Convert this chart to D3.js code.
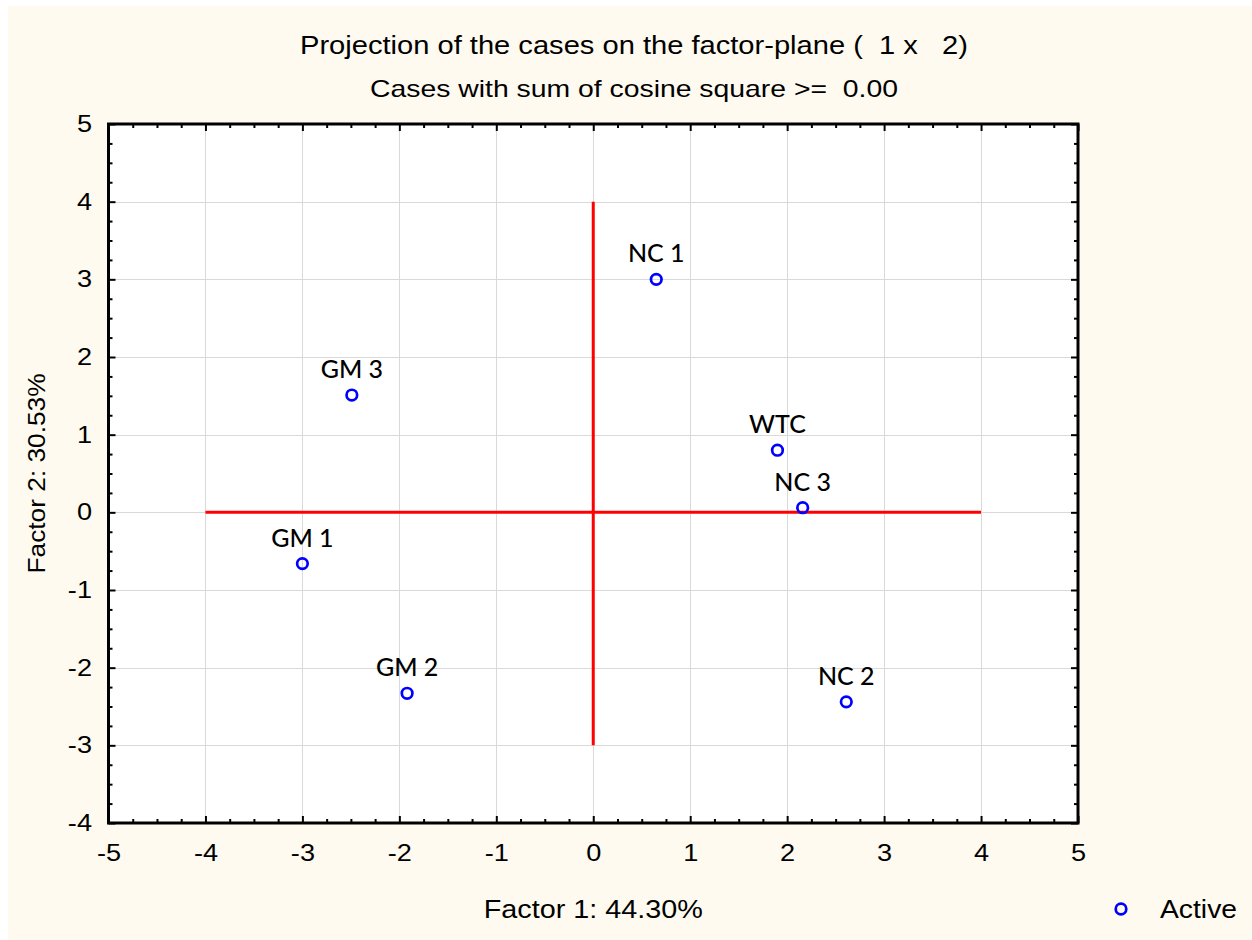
<!DOCTYPE html>
<html><head><meta charset="utf-8">
<script src="https://cdn.jsdelivr.net/npm/d3@7"></script>
<style>body{margin:0;background:#fff}svg{display:block}</style>
</head><body>
<svg id="c" width="1252" height="940"></svg>
<script>
// ---- data ----
const caseLabels = ["NC 1", "GM 3", "WTC", "NC 3", "GM 1", "GM 2", "NC 2"];
const factor1 = [0.65, -2.49, 1.90, 2.16, -3.00, -1.92, 2.61];
const factor2 = [3.00, 1.51, 0.80, 0.06, -0.66, -2.33, -2.44];
const xTicks = [-5, -4, -3, -2, -1, 0, 1, 2, 3, 4, 5];
const yTicks = [-4, -3, -2, -1, 0, 1, 2, 3, 4, 5];
const horizAxisLine = [[-4, 0], [4, 0]];
const vertAxisLine = [[0, -3], [0, 4]];
const titleLines = ["Projection of the cases on the factor-plane (  1 x   2)", "Cases with sum of cosine square >=  0.00"];
const xTitle = "Factor 1: 44.30%";
const yTitle = "Factor 2: 30.53%";
const legendLabel = "Active";

// ---- layout ----
const L = 108.5, R = 1078, T = 124, B = 823;
const svg = d3.select("#c");
const sans = "'Liberation Sans', Arial, sans-serif";
const labelFont = "Lato, 'Open Sans', sans-serif";
const stretch = 1.18;

svg.append("rect").attr("x", 0).attr("y", 0).attr("width", 1252).attr("height", 940).attr("fill", "#ffffff");
svg.append("rect").attr("x", 8).attr("y", 6).attr("width", 1244).attr("height", 934).attr("fill", "#fefaef");

const x = d3.scaleLinear().domain([-5, 5]).range([L, R]);
const y = d3.scaleLinear().domain([-4, 5]).range([B, T]);

svg.append("rect").attr("x", L).attr("y", T).attr("width", R - L).attr("height", B - T).attr("fill", "#ffffff");

// grid
const grid = svg.append("g").attr("stroke", "#d9d9d9").attr("stroke-width", 1);
grid.selectAll("line.gx").data(xTicks.slice(1, -1)).join("line")
  .attr("x1", d => Math.round(x(d)) + 0.5).attr("x2", d => Math.round(x(d)) + 0.5).attr("y1", T).attr("y2", B);
grid.selectAll("line.gy").data(yTicks.slice(1, -1)).join("line")
  .attr("y1", d => Math.round(y(d)) + 0.5).attr("y2", d => Math.round(y(d)) + 0.5).attr("x1", L).attr("x2", R);

// red reference lines
const line = d3.line().x(d => x(d[0])).y(d => y(d[1]));
svg.append("path").attr("d", line(horizAxisLine)).attr("stroke", "#ff0000").attr("stroke-width", 3).attr("fill", "none");
svg.append("path").attr("d", line(vertAxisLine)).attr("stroke", "#ff0000").attr("stroke-width", 3).attr("fill", "none");

// minor tick values
const xMinor = d3.range(-5, 5.001, 0.25).filter(v => Math.abs(v - Math.round(v)) > 1e-6);
const yMinor = d3.range(-4, 5.001, 0.25).filter(v => Math.abs(v - Math.round(v)) > 1e-6);

const fmt = d => String(d);
function styleAxis(g) {
  g.select(".domain").remove();
  g.selectAll("line").attr("stroke", "#000").attr("stroke-width", 2);
  g.selectAll("text").attr("font-family", sans).attr("font-size", 23).attr("fill", "#000");
}
// bottom
svg.append("g").attr("transform", `translate(0,${B})`)
  .call(d3.axisBottom(x).tickValues(xTicks).tickSize(-7).tickPadding(22).tickFormat(fmt)).call(styleAxis)
  .call(g => g.selectAll("text").attr("transform", `scale(${stretch},1)`));
svg.append("g").attr("transform", `translate(0,${B})`)
  .call(d3.axisBottom(x).tickValues(xMinor).tickSize(-4).tickFormat("")).call(styleAxis);
// top
svg.append("g").attr("transform", `translate(0,${T})`)
  .call(d3.axisTop(x).tickValues(xTicks).tickSize(-7).tickFormat("")).call(styleAxis);
svg.append("g").attr("transform", `translate(0,${T})`)
  .call(d3.axisTop(x).tickValues(xMinor).tickSize(-4).tickFormat("")).call(styleAxis);
// left
svg.append("g").attr("transform", `translate(${L},0)`)
  .call(d3.axisLeft(y).tickValues(yTicks).tickSize(-7).tickPadding(14).tickFormat(fmt)).call(styleAxis)
  .call(g => g.selectAll("text").attr("transform", `scale(${stretch},1)`));
svg.append("g").attr("transform", `translate(${L},0)`)
  .call(d3.axisLeft(y).tickValues(yMinor).tickSize(-4).tickFormat("")).call(styleAxis);
// right
svg.append("g").attr("transform", `translate(${R},0)`)
  .call(d3.axisRight(y).tickValues(yTicks).tickSize(-7).tickFormat("")).call(styleAxis);
svg.append("g").attr("transform", `translate(${R},0)`)
  .call(d3.axisRight(y).tickValues(yMinor).tickSize(-4).tickFormat("")).call(styleAxis);

// frame
svg.append("rect").attr("x", L).attr("y", T).attr("width", R - L).attr("height", B - T)
  .attr("fill", "none").attr("stroke", "#000").attr("stroke-width", 3);

// points
const pts = caseLabels.map((lab, i) => ({ lab, fx: factor1[i], fy: factor2[i] }));
svg.append("g").selectAll("circle").data(pts).join("circle")
  .attr("cx", d => x(d.fx)).attr("cy", d => y(d.fy)).attr("r", 5.3)
  .attr("fill", "none").attr("stroke", "#0000ff").attr("stroke-width", 2.7);
svg.append("g").selectAll("text").data(pts).join("text")
  .attr("x", d => x(d.fx)).attr("y", d => y(d.fy) - 17).attr("text-anchor", "middle")
  .attr("font-family", labelFont).attr("font-size", 25).attr("font-weight", 500).attr("fill", "#000").text(d => d.lab);

// titles
svg.append("text").attr("x", 634).attr("y", 54).attr("text-anchor", "middle")
  .attr("font-family", sans).attr("font-size", 25).attr("fill", "#000")
  .attr("textLength", 668).attr("lengthAdjust", "spacingAndGlyphs").style("white-space", "pre").text(titleLines[0]);
svg.append("text").attr("x", 634).attr("y", 97).attr("text-anchor", "middle")
  .attr("font-family", sans).attr("font-size", 24).attr("fill", "#000")
  .attr("textLength", 528).attr("lengthAdjust", "spacingAndGlyphs").style("white-space", "pre").text(titleLines[1]);

// axis titles
svg.append("text").attr("x", (L + R) / 2).attr("y", 918).attr("text-anchor", "middle")
  .attr("font-family", sans).attr("font-size", 25).attr("fill", "#000")
  .attr("textLength", 219).attr("lengthAdjust", "spacingAndGlyphs").text(xTitle);
svg.append("text").attr("transform", `translate(45,${(T + B) / 2}) rotate(-90)`).attr("text-anchor", "middle")
  .attr("font-family", sans).attr("font-size", 24).attr("fill", "#000")
  .attr("textLength", 200).attr("lengthAdjust", "spacingAndGlyphs").text(yTitle);

// legend
svg.append("circle").attr("cx", 1121).attr("cy", 909).attr("r", 5.3)
  .attr("fill", "none").attr("stroke", "#0000ff").attr("stroke-width", 2.7);
svg.append("text").attr("x", 1160).attr("y", 918).attr("font-family", sans).attr("font-size", 25)
  .attr("fill", "#000").attr("textLength", 77).attr("lengthAdjust", "spacingAndGlyphs").text(legendLabel);
</script>
</body></html>
